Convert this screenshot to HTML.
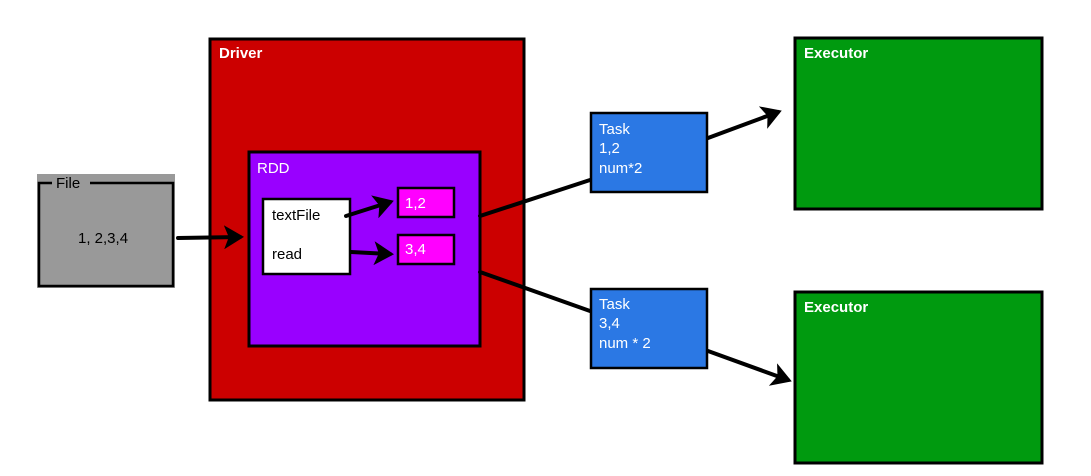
<!DOCTYPE html>
<html><head><style>
body{margin:0;background:#fff;}
svg text{font-family:"Liberation Sans",sans-serif;font-size:15px;}
</style></head><body>
<svg width="1091" height="471" xmlns="http://www.w3.org/2000/svg">
<defs>
<marker id="a" markerWidth="6" markerHeight="6" refX="4" refY="3" orient="auto" markerUnits="strokeWidth">
<path d="M0,0 L5,3 L0,6 L1.2,3 Z" fill="#000"/></marker>
</defs>
<rect x="37" y="174" width="138" height="114" fill="#999"/>
<rect x="39" y="183" width="134" height="103" fill="none" stroke="#000" stroke-width="2.5"/>
<rect x="52" y="176" width="38" height="14" fill="#999"/>
<text x="56" y="188" fill="#000">File</text>
<text x="78" y="243" fill="#000">1, 2,3,4</text>
<rect x="210" y="39" width="314" height="361" fill="#cc0000" stroke="#000" stroke-width="3"/>
<text x="219" y="58" fill="#fff" font-weight="bold">Driver</text>
<rect x="249" y="152" width="231" height="194" fill="#9900ff" stroke="#000" stroke-width="3"/>
<text x="257" y="173" fill="#fff">RDD</text>
<rect x="263" y="199" width="87" height="75" fill="#fff" stroke="#000" stroke-width="2.5"/>
<text x="272" y="220" fill="#000">textFile</text>
<text x="272" y="259" fill="#000">read</text>
<rect x="398" y="188" width="56" height="29" fill="#ff00ff" stroke="#000" stroke-width="2.5"/>
<text x="405" y="208" fill="#fff">1,2</text>
<rect x="398" y="235" width="56" height="29" fill="#ff00ff" stroke="#000" stroke-width="2.5"/>
<text x="405" y="254" fill="#fff">3,4</text>
<rect x="591" y="113" width="116" height="79" fill="#2b78e4" stroke="#000" stroke-width="2.5"/>
<text x="599" y="134" fill="#fff">Task</text>
<text x="599" y="153" fill="#fff">1,2</text>
<text x="599" y="173" fill="#fff">num*2</text>
<rect x="591" y="289" width="116" height="79" fill="#2b78e4" stroke="#000" stroke-width="2.5"/>
<text x="599" y="309" fill="#fff">Task</text>
<text x="599" y="328" fill="#fff">3,4</text>
<text x="599" y="348" fill="#fff">num * 2</text>
<rect x="795" y="38" width="247" height="171" fill="#009a0f" stroke="#000" stroke-width="3"/>
<text x="804" y="58" fill="#fff" font-weight="bold">Executor</text>
<rect x="795" y="292" width="247" height="171" fill="#009a0f" stroke="#000" stroke-width="3"/>
<text x="804" y="312" fill="#fff" font-weight="bold">Executor</text>
<g stroke="#000" stroke-width="4" fill="none" stroke-linecap="round">
<line x1="178" y1="238" x2="240" y2="237" marker-end="url(#a)"/>
<line x1="346" y1="216" x2="390" y2="202" marker-end="url(#a)"/>
<line x1="351" y1="252" x2="390" y2="254" marker-end="url(#a)"/>
<line x1="480" y1="216" x2="590" y2="180"/>
<line x1="480" y1="272" x2="590" y2="311"/>
<line x1="708" y1="138" x2="778" y2="112" marker-end="url(#a)"/>
<line x1="708" y1="351" x2="788" y2="380" marker-end="url(#a)"/>
</g>
</svg>
</body></html>
